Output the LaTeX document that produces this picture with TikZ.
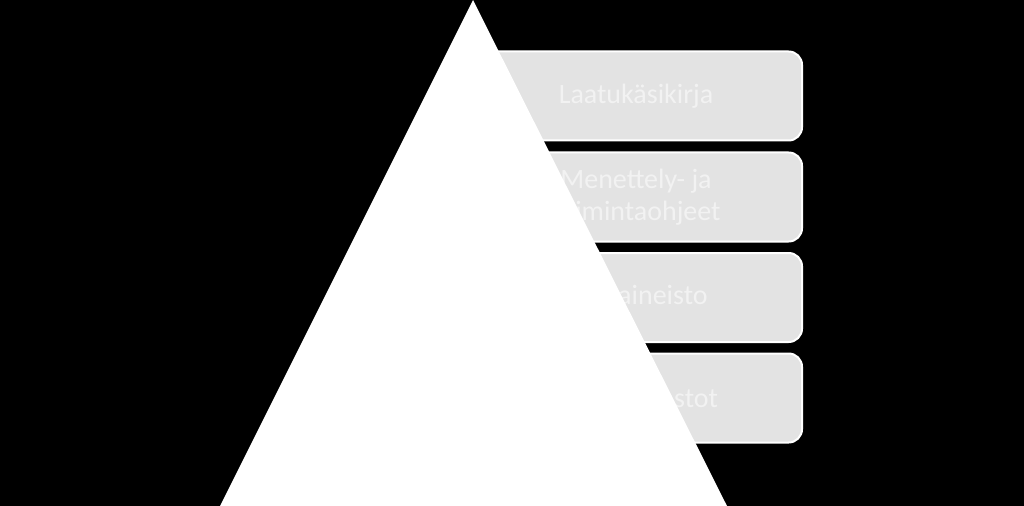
\documentclass[tikz,border=0pt]{standalone}
\usepackage{fontspec}
\setmainfont{Carlito}
\usepackage{tikz}
\usetikzlibrary{positioning}

\definecolor{boxgray}{HTML}{E3E3E3}
\definecolor{textwhite}{HTML}{F2F2F2}

\begin{document}
\begin{tikzpicture}[
    x=0.75pt, y=-0.75pt,
    box/.style={rectangle, rounded corners=10pt, draw=white, line width=1.5pt,
                fill=boxgray, text=textwhite, align=center,
                font=\fontsize{21}{24}\selectfont,
                minimum width=249pt, minimum height=66.75pt, inner sep=0pt}
]
    \fill[black] (0,0) rectangle (1024,506);

    \node[box] (Q) at (636,96) {Laatukäsikirja};
    \node[box] (M) at (636,197) {Menettely- ja\\toimintaohjeet};
    \node[box] (A) at (636,297.5) {Ohjeaineisto};
    \node[box] (T) at (636,398) {Palautetilastot};

    \coordinate (top) at (473,0);
    \coordinate (bl) at (220,506);
    \coordinate (br) at (727,506);
    \fill[white] (top) -- (bl) -- (br) -- cycle;
\end{tikzpicture}
\end{document}
